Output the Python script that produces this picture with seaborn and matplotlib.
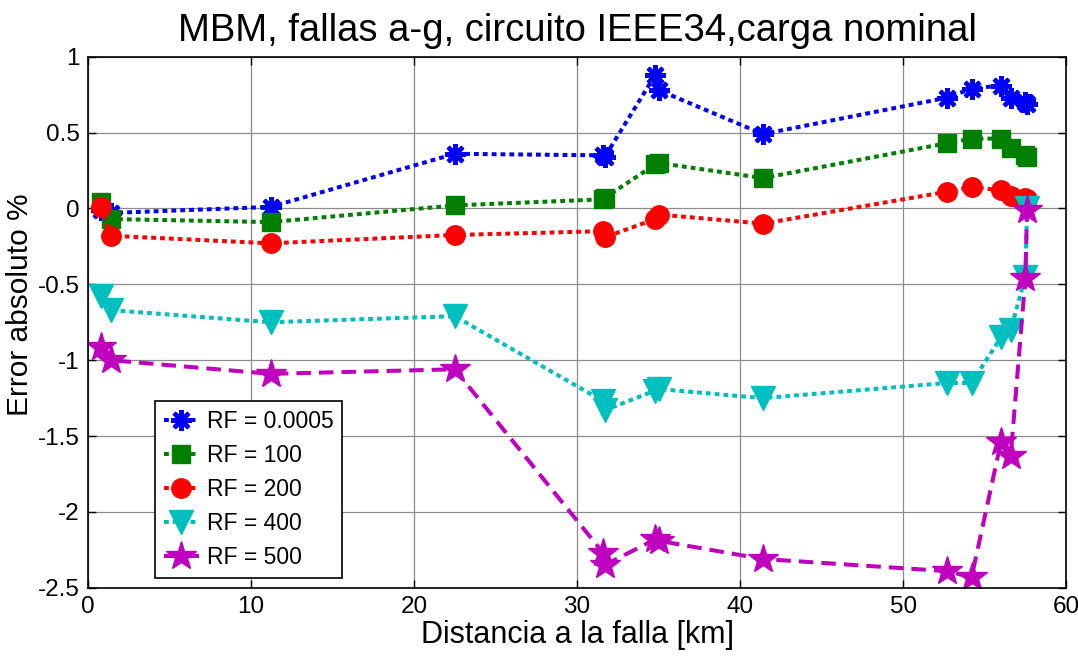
import matplotlib
matplotlib.use("Agg")
import matplotlib.pyplot as plt
import seaborn as sns
import pandas as pd
from matplotlib.ticker import FixedLocator

# Fault distances along the feeder (km)
distancia = [0.8, 1.4, 11.2, 22.5, 31.6, 31.7, 34.8, 35.0, 41.4,
             52.7, 54.2, 56.0, 56.6, 57.5, 57.6]

# Absolute location error (%) for each fault resistance
err_rf_0005 = [-0.01, -0.03, 0.01, 0.36, 0.35, 0.34, 0.88, 0.78, 0.49,
               0.73, 0.79, 0.81, 0.73, 0.70, 0.69]
err_rf_100 = [0.04, -0.07, -0.09, 0.02, 0.06, 0.07, 0.29, 0.30, 0.20,
              0.43, 0.46, 0.46, 0.40, 0.35, 0.34]
err_rf_200 = [0.01, -0.18, -0.23, -0.175, -0.15, -0.19, -0.07, -0.04, -0.10,
              0.11, 0.14, 0.12, 0.08, 0.07, 0.06]
err_rf_400 = [-0.58, -0.67, -0.75, -0.71, -1.27, -1.33, -1.20, -1.19, -1.25,
              -1.15, -1.15, -0.85, -0.80, -0.45, 0.00]
err_rf_500 = [-0.91, -1.00, -1.09, -1.06, -2.27, -2.35, -2.18, -2.19, -2.31,
              -2.39, -2.43, -1.54, -1.63, -0.46, -0.01]

series_labels = ["RF = 0.0005", "RF = 100", "RF = 200", "RF = 400", "RF = 500"]
series_values = [err_rf_0005, err_rf_100, err_rf_200, err_rf_400, err_rf_500]

x_ticks = [0, 10, 20, 30, 40, 50, 60]
y_ticks = [-2.5, -2, -1.5, -1, -0.5, 0, 0.5, 1]
y_ticklabels = ["-2.5", "-2", "-1.5", "-1", "-0.5", "0", "0.5", "1"]

sns.set_theme(style="ticks")
plt.rcParams["font.family"] = ["Liberation Sans", "DejaVu Sans"]
plt.rcParams["axes.unicode_minus"] = False
plt.rcParams["text.color"] = "black"
plt.rcParams["axes.labelcolor"] = "black"

dotted = (0, (1.2, 1.0))
dashed = (0, (3.6, 2.0))
styles = [
    dict(color="#0000ff", marker=(8, 2, 0), markersize=15, linestyle=dotted, mew=3.0),
    dict(color="#007f00", marker="s", markersize=13, linestyle=dotted, mew=1.0),
    dict(color="#ff0000", marker="o", markersize=14, linestyle=dotted, mew=1.0),
    dict(color="#00bfbf", marker="v", markersize=17, linestyle=dotted, mew=1.0),
    dict(color="#bf00bf", marker="*", markersize=22, linestyle=dashed, mew=1.0),
]

frames = []
for lab, vals in zip(series_labels, series_values):
    frames.append(pd.DataFrame({"dist": distancia, "err": vals, "serie": lab}))
data = pd.concat(frames, ignore_index=True)

fig = plt.figure(figsize=(10.78, 6.59), dpi=100)
ax = fig.add_axes([0.0816, 0.108, 0.9074, 0.806])

for lab, st in zip(series_labels, styles):
    sub = data[data["serie"] == lab]
    sns.lineplot(data=sub, x="dist", y="err", ax=ax, sort=False, estimator=None,
                 color=st["color"], linewidth=2.9, linestyle=st["linestyle"],
                 marker=st["marker"], markersize=st["markersize"],
                 markerfacecolor=st["color"], markeredgecolor=st["color"],
                 markeredgewidth=st["mew"], label=lab)

ax.set_xlim(0, 60)
ax.set_ylim(-2.5, 1)
ax.xaxis.set_major_locator(FixedLocator(x_ticks))
ax.yaxis.set_major_locator(FixedLocator(y_ticks))
ax.set_xticklabels([str(t) for t in x_ticks])
ax.set_yticklabels(y_ticklabels)
ax.grid(True, color="#8c8c8c", linewidth=0.9)
ax.set_axisbelow(True)
for sp in ax.spines.values():
    sp.set_visible(True)
    sp.set_color("black")
    sp.set_linewidth(1.2)
ax.tick_params(direction="in", length=6, width=1.0, top=True, right=True,
               labelsize=17.5, colors="black", labelcolor="black", pad=6)

ax.set_title("MBM, fallas a-g, circuito IEEE34,carga nominal", fontsize=27.5,
             pad=11, color="black")
ax.set_xlabel("Distancia a la falla [km]", fontsize=22, labelpad=1, color="black")
ax.set_ylabel("Error absoluto %", fontsize=21.5, color="black")
ax.yaxis.set_label_coords(-0.055, 0.534)

leg = ax.legend(loc="lower left", bbox_to_anchor=(0.0685, 0.019), borderaxespad=0,
                fontsize=16.5, frameon=True, fancybox=False, edgecolor="black",
                framealpha=1, handlelength=1.5, handletextpad=0.35,
                labelspacing=0.47, borderpad=0.4)
leg.get_frame().set_linewidth(1.2)
for t in leg.get_texts():
    t.set_color("black")

fig.savefig("out.png", dpi=100, facecolor="white")
